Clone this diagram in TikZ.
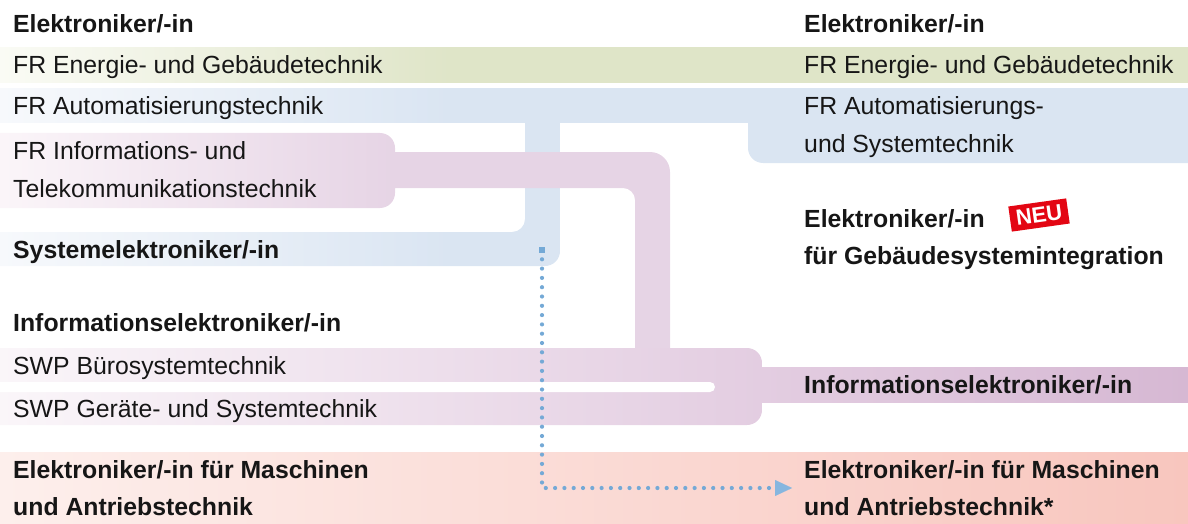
\documentclass[tikz,border=0pt]{standalone}
\usepackage{fontspec}
\setmainfont{Liberation Sans}
\usetikzlibrary{arrows.meta}
\definecolor{greenF}{HTML}{DFE5C8}
\definecolor{greenL}{HTML}{FAFBF5}
\definecolor{blueF}{HTML}{DAE5F2}
\definecolor{blueL}{HTML}{F7F9FC}
\definecolor{pinkUL}{HTML}{FCF7FA}
\definecolor{pinkC}{HTML}{E6D4E5}
\definecolor{pinkLL}{HTML}{FBF7FA}
\definecolor{pinkLM}{HTML}{E3CDE1}
\definecolor{pinkLD}{HTML}{D6B8D3}
\definecolor{salL}{HTML}{FDEFEC}
\definecolor{salR}{HTML}{F8C6BE}
\definecolor{dotblue}{HTML}{74A9D6}
\definecolor{arrowblue}{HTML}{86B6DF}
\definecolor{neured}{HTML}{E30613}
\definecolor{txt}{HTML}{161616}
% bbox 0..1188, full colour from x=450
\pgfdeclarehorizontalshading{greenfade}{100bp}{color(0bp)=(greenL); color(25bp)=(greenL); color(43.94bp)=(greenF); color(100bp)=(greenF)}
\pgfdeclarehorizontalshading{bluefadeT}{100bp}{color(0bp)=(blueL); color(25bp)=(blueL); color(43.94bp)=(blueF); color(100bp)=(blueF)}
% bbox 0..560, full colour from x=450
\pgfdeclarehorizontalshading{bluefadeB}{100bp}{color(0bp)=(blueL); color(25bp)=(blueL); color(65.18bp)=(blueF); color(100bp)=(blueF)}
% bbox -20..670, full colour from x=395
\pgfdeclarehorizontalshading{pinkfadeU}{100bp}{color(0bp)=(pinkUL); color(25bp)=(pinkUL); color(55.07bp)=(pinkC); color(100bp)=(pinkC)}
\newcommand{\twoline}[2]{\begin{tabular}[t]{@{}l@{}}#1\\#2\end{tabular}}
\begin{document}
\begin{tikzpicture}[x=1pt,y=-1pt,
  lbl/.style={anchor=base west, inner sep=0pt, text=txt, font=\fontsize{24.8}{37}\selectfont},
  blbl/.style={lbl, font=\fontsize{24.8}{37}\selectfont\bfseries},
  dotline/.style={dotblue, line width=4.2pt, line cap=round, dash pattern=on 0pt off 9.3pt},
  badge/.style={fill=neured, text=white, font=\fontsize{22}{22}\selectfont\bfseries, inner xsep=6pt, inner ysep=5pt, rotate=8},
]
\useasboundingbox (0,0) rectangle (1188,524);
% green band
\shade[shading=greenfade] (0,48) rectangle (1188,83);
% blue shape
\shade[shading=bluefadeT] (0,89) rectangle (1188,123);
\fill[blueF] (748,122) -- (748,148) .. controls (748,156.28) and (754.72,163) .. (763,163) -- (1188,163) -- (1188,122) -- cycle;
\shade[shading=bluefadeB] (0,232) -- (512,232) .. controls (519.18,232) and (525,226.18) .. (525,219) -- (525,122) -- (560,122) -- (560,251) .. controls (560,259.28) and (553.28,266) .. (545,266) -- (0,266) -- cycle;
% pink upper block with connector
\shade[shading=pinkfadeU] (-20,133) -- (380,133) .. controls (388.28,133) and (395,139.72) .. (395,148) -- (395,152) -- (650,152) .. controls (661.05,152) and (670,160.95) .. (670,172) -- (670,349) -- (635,349) -- (635,200) .. controls (635,193.38) and (629.62,188) .. (623,188) -- (395,188) -- (395,193) .. controls (395,201.28) and (388.28,208) .. (380,208) -- (-20,208) -- cycle;
% pink lower block
\shade[left color=pinkLL, right color=pinkLM] (-20,348) -- (747,348) .. controls (755.28,348) and (762,354.72) .. (762,363) -- (762,410) .. controls (762,418.28) and (755.28,425) .. (747,425) -- (-20,425) -- cycle;
\fill[white, rounded corners=5pt] (-20,382) rectangle (715,392);
\shade[left color=pinkLM, right color=pinkLD] (760,367) rectangle (1188,402);
% salmon band
\shade[left color=salL, right color=salR] (0,452) rectangle (1188,524);
% dotted connector
\node[fill=dotblue, minimum size=6pt, inner sep=0pt] (dsq) at (542,250) {};
\coordinate (dend) at (792,488);
\draw[dotline, -{Triangle[length=17pt, width=16pt, line width=0.1pt, color=arrowblue, fill=arrowblue]}] (dsq.center) |- (dend);
% left texts
\node[blbl] (lel) at (13,33) {Elektroniker/-in};
\node[lbl] (lfe) at (13,74) {FR Energie- und Gebäudetechnik};
\node[lbl] (lfa) at (13,115) {FR Automatisierungstechnik};
\node[lbl] (lfi) at (13,160) {\twoline{FR Informations- und}{Telekommunikationstechnik}};
\node[blbl] (lsys) at (13,258) {Systemelektroniker/-in};
\node[blbl] (linf) at (13,331) {Informationselektroniker/-in};
\node[lbl] (lswb) at (13,374) {SWP Bürosystemtechnik};
\node[lbl] (lswg) at (13,417) {SWP Geräte- und Systemtechnik};
\node[blbl] (lmas) at (13,478) {\twoline{Elektroniker/-in für Maschinen}{und Antriebstechnik}};
% right texts
\node[blbl] (rel) at (804,33) {Elektroniker/-in};
\node[lbl] (rfe) at (804,74) {FR Energie- und Gebäudetechnik};
\node[lbl] (rfa) at (804,115) {\twoline{FR Automatisierungs-}{und Systemtechnik}};
\node[blbl] (rgeb1) at (804,227) {Elektroniker/-in};
\node[blbl] (rgeb2) at (804,264) {für Gebäudesystemintegration};
\node[badge] (neu) at (1039,215) {NEU};
\node[blbl] (rinf) at (804,393) {Informationselektroniker/-in};
\node[blbl] (rmas) at (804,478) {\twoline{Elektroniker/-in für Maschinen}{und Antriebstechnik*}};
\end{tikzpicture}
\end{document}
